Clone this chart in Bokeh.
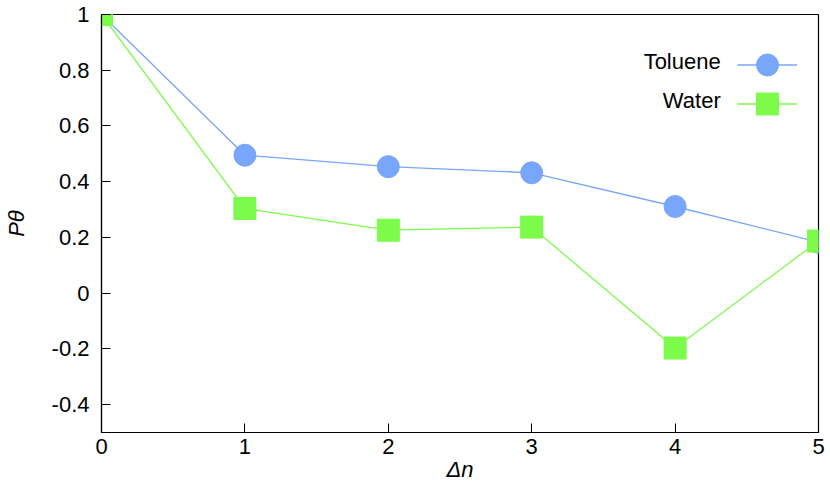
from bokeh.plotting import figure
from bokeh.models import Range1d, FixedTicker, Legend, LegendItem, Label
from bokeh.embed import file_html
from bokeh.resources import INLINE

# data
delta_n = [0, 1, 2, 3, 4, 5]
toluene = [1.0, 0.495, 0.454, 0.432, 0.311, 0.183]
water = [1.0, 0.304, 0.226, 0.237, -0.197, 0.187]
x_ticks = [0, 1, 2, 3, 4, 5]
x_tick_labels = ["0", "1", "2", "3", "4", "5"]
y_ticks = [-0.4, -0.2, 0, 0.2, 0.4, 0.6, 0.8, 1]
y_tick_labels = ["-0.4", "-0.2", "0", "0.2", "0.4", "0.6", "0.8", "1"]
series_names = ["Toluene", "Water"]

FONT = "Liberation Sans"
BLUE = "#77a6fb"
GREEN = "#7cfb4a"

p = figure(width=830, height=493,
           min_border_left=99, min_border_right=12,
           min_border_top=14, min_border_bottom=61,
           x_range=Range1d(0, 5), y_range=Range1d(-0.5, 1.0),
           output_backend="svg", toolbar_location=None)
p.grid.visible = False
p.outline_line_color = "black"
p.outline_line_width = 1.2
p.background_fill_color = "white"
p.border_fill_color = "white"

p.xaxis.ticker = FixedTicker(ticks=x_ticks)
p.xaxis.major_label_overrides = {t: l for t, l in zip(x_ticks, x_tick_labels)}
p.yaxis.ticker = FixedTicker(ticks=y_ticks)
p.yaxis.major_label_overrides = {t: l for t, l in zip(y_ticks, y_tick_labels)}

for ax in (p.xaxis[0], p.yaxis[0]):
    ax.major_tick_in = 9
    ax.major_tick_out = 0
    ax.minor_tick_line_color = None
    ax.axis_line_color = "black"
    ax.axis_line_width = 1.2
    ax.major_tick_line_color = "black"
    ax.major_label_text_font = FONT
    ax.major_label_text_font_size = "22px"
    ax.major_label_text_color = "black"
    ax.axis_label_text_font = FONT
    ax.axis_label_text_font_size = "22px"
    ax.axis_label_text_font_style = "italic"
    ax.axis_label_text_color = "black"

p.xaxis.axis_label = "Δn"
p.xaxis.major_label_standoff = 6
p.xaxis.axis_label_standoff = 0
p.yaxis.axis_label = "Pθ"
p.yaxis.major_label_standoff = 12
p.yaxis.axis_label_standoff = 20

l1 = p.line(delta_n, toluene, line_color=BLUE, line_width=1.3)
s1 = p.scatter(delta_n, toluene, marker="circle", size=22, fill_color=BLUE, line_color=BLUE)
l2 = p.line(delta_n, water, line_color=GREEN, line_width=1.3)
s2 = p.scatter(delta_n, water, marker="square", size=22, fill_color=GREEN, line_color=GREEN)

def make_legend(renderers, loc):
    lg = Legend(items=[LegendItem(label=" ", renderers=renderers)], location=loc,
                glyph_width=60, glyph_height=55, padding=0, margin=0, spacing=0,
                label_standoff=0, label_width=0, label_height=0,
                label_text_font_size="1px",
                border_line_alpha=0, background_fill_alpha=0)
    p.add_layout(lg, "center")

make_legend([l1, s1], (636, 340))
make_legend([l2, s2], (636, 301))

p.add_layout(Label(x=4.318, y=0.833, text=series_names[0], text_align="right",
                   text_baseline="middle", text_font=FONT, text_font_size="22px", text_color="black"))
p.add_layout(Label(x=4.318, y=0.693, text=series_names[1], text_align="right",
                   text_baseline="middle", text_font=FONT, text_font_size="22px", text_color="black"))

open("out.html", "w").write(file_html(p, INLINE))
